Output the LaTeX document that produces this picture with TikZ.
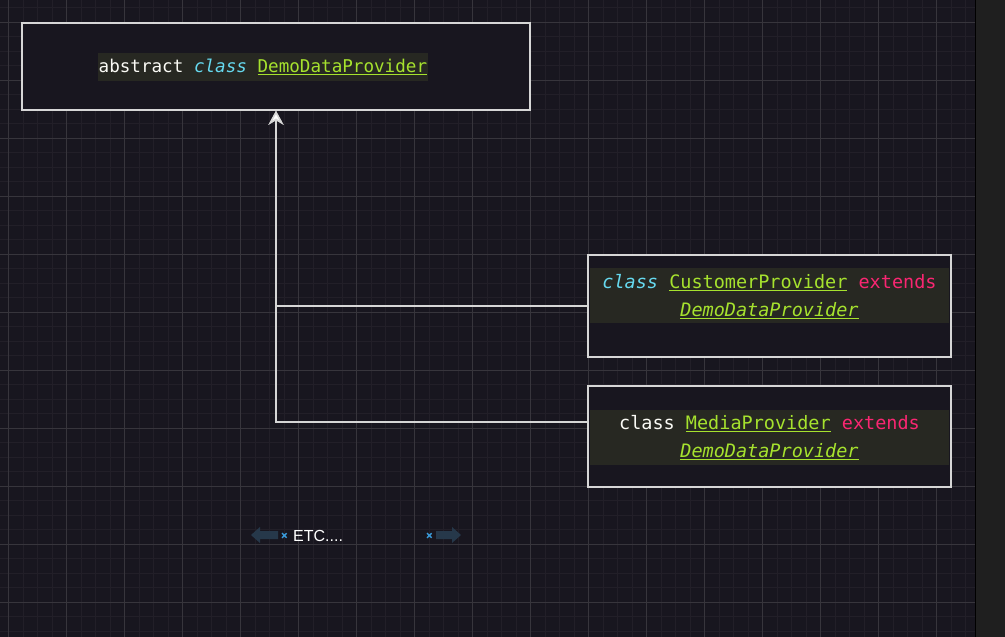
\documentclass[tikz,border=0pt]{standalone}
\usepackage{fontspec}
\setmainfont{Liberation Sans}
\newfontfamily\codefont{DejaVu Sans Mono}
\usetikzlibrary{arrows.meta}
\definecolor{bg}{HTML}{18161F}
\definecolor{gridminor}{HTML}{221F28}
\definecolor{gridmajor}{HTML}{37353C}
\definecolor{panel}{HTML}{1F1F1F}
\definecolor{edgecol}{HTML}{D6D6D6}
\definecolor{hl}{HTML}{272822}
\definecolor{kwwhite}{HTML}{FAFAF5}
\definecolor{kwcyan}{HTML}{66D9EF}
\definecolor{kwgreen}{HTML}{A6E22E}
\definecolor{kwpink}{HTML}{F92672}
\definecolor{etcarrow}{HTML}{26384A}
\definecolor{etcblue}{HTML}{3A9AD9}
\newcommand\myul[1]{\underline{#1}}
\tikzset{
  umlbox/.style={draw=edgecol, line width=1.5pt, fill=bg, inner sep=0},
  codetext/.style={text=kwwhite, inner sep=0, align=center},
  conn/.style={draw=edgecol, line width=1.5pt, -{Stealth[length=14pt,width=15pt,inset=4.5pt,fill=white]}},
  minorline/.style={draw=gridminor, line width=1pt},
  majorline/.style={draw=gridmajor, line width=1pt},
  etcshape/.style={fill=etcarrow},
  etcmark/.style={draw=etcblue, line width=1.4pt},
}
\begin{document}
\begin{tikzpicture}[x=1pt,y=-1pt]
\useasboundingbox (0,0) rectangle (1005,637);
\fill[bg] (0,0) rectangle (1005,637);
% grid
\begin{scope}
\clip (0,0) rectangle (975,637);
\foreach \i in {0,...,67} \draw[minorline] (8.7+14.5*\i,0) -- (8.7+14.5*\i,637);
\foreach \j in {-1,...,43} \draw[minorline] (0,22.4+14.5*\j) -- (975,22.4+14.5*\j);
\foreach \i in {0,...,16} \draw[majorline] (8.7+58*\i,0) -- (8.7+58*\i,637);
\foreach \j in {0,...,10} \draw[majorline] (0,22.4+58*\j) -- (975,22.4+58*\j);
\end{scope}
% right panel
\fill[panel] (975.5,0) rectangle (1005,637);
\draw[black, line width=1.2pt] (975.5,0) -- (975.5,637);

% boxes
\node[umlbox, minimum width=508, minimum height=87] (base) at (276,66.5) {};
\node[umlbox, minimum width=363, minimum height=102] (cust) at (769.5,306) {};
\node[umlbox, minimum width=363, minimum height=101] (media) at (769.5,436.7) {};

% highlights
\fill[hl] (590,268.3) rectangle (949,322.7);
\fill[hl] (590,410) rectangle (949,465);

% texts
\node[codetext, font=\codefont\fontsize{17.6}{28}\selectfont, fill=hl, minimum height=28, inner xsep=0.5] (basetext) at (262.9,66.7)
  {abstract \textcolor{kwcyan}{\itshape class} \textcolor{kwgreen}{\myul{DemoDataProvider}}};
\node[codetext, font=\codefont\fontsize{18.5}{28}\selectfont] (custtext) at (769.5,296.5)
  {\textcolor{kwcyan}{\itshape class} \textcolor{kwgreen}{\myul{CustomerProvider}} \textcolor{kwpink}{extends}\\
   \textcolor{kwgreen}{\itshape\myul{DemoDataProvider}}};
\node[codetext, font=\codefont\fontsize{18.5}{28}\selectfont] (mediatext) at (769.5,438)
  {class \textcolor{kwgreen}{\myul{MediaProvider}} \textcolor{kwpink}{extends}\\
   \textcolor{kwgreen}{\itshape\myul{DemoDataProvider}}};

% connectors
\coordinate (mediain) at ([yshift=14.7pt]media.west);
\draw[conn] (cust.west) -| (base.south);
\draw[conn] (mediain) -| (base.south);

% ETC row
\fill[etcshape] (251,535) -- (260,527) -- (260,531) -- (278,531) -- (278,539) -- (260,539) -- (260,543) -- cycle;
\fill[etcshape] (461,535) -- (452,527) -- (452,531) -- (436,531) -- (436,539) -- (452,539) -- (452,543) -- cycle;
\draw[etcmark] (282,533.2) -- (286.6,537.8) (282,537.8) -- (286.6,533.2);
\draw[etcmark] (427,533.2) -- (431.6,537.8) (427,537.8) -- (431.6,533.2);
\node[font=\fontsize{16}{19}\selectfont, text=white, anchor=west, inner sep=0] (etc) at (293,536) {ETC....};
\end{tikzpicture}
\end{document}
